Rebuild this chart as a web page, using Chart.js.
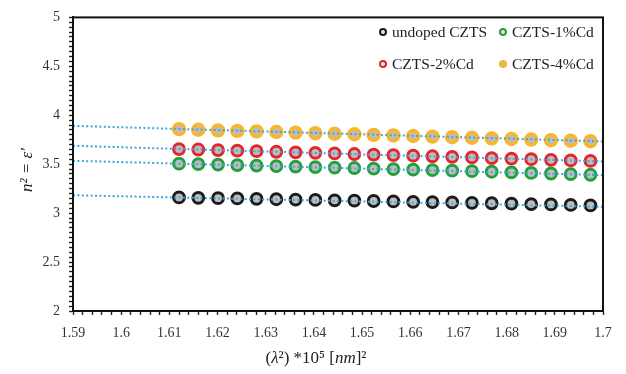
<!DOCTYPE html>
<html>
<head>
<meta charset="utf-8">
<script src="https://cdn.jsdelivr.net/npm/chart.js@4.4.1/dist/chart.umd.min.js"></script>
<style>
  html, body { margin: 0; padding: 0; background: #fff; }
  #wrap { width: 626px; height: 374px; }
</style>
</head>
<body>
<div id="wrap"><canvas id="chart" width="626" height="374"></canvas></div>
<script>
// x = lambda^2 * 1e-5 (lambda 401.5 .. 412 nm, step 0.5)
const xValues = [1.6120, 1.6160, 1.6201, 1.6241, 1.6281, 1.6322, 1.6362, 1.6403, 1.6443, 1.6484, 1.6524,
                 1.6565, 1.6606, 1.6646, 1.6687, 1.6728, 1.6769, 1.6810, 1.6851, 1.6892, 1.6933, 1.6974];

const seriesNames = ['undoped CZTS', 'CZTS-1%Cd', 'CZTS-2%Cd', 'CZTS-4%Cd'];

const undoped = [3.160, 3.156, 3.153, 3.150, 3.146, 3.142, 3.139, 3.135, 3.131, 3.128, 3.124,
                 3.120, 3.116, 3.113, 3.109, 3.105, 3.101, 3.097, 3.093, 3.089, 3.084, 3.079];
const cd1 = [3.505, 3.500, 3.496, 3.491, 3.486, 3.481, 3.476, 3.471, 3.466, 3.461, 3.455,
             3.450, 3.445, 3.440, 3.434, 3.429, 3.423, 3.417, 3.411, 3.405, 3.398, 3.392];
const cd2 = [3.655, 3.650, 3.644, 3.638, 3.633, 3.627, 3.621, 3.616, 3.610, 3.604, 3.598,
             3.593, 3.587, 3.581, 3.575, 3.569, 3.563, 3.557, 3.551, 3.545, 3.539, 3.533];
const cd4 = [3.858, 3.852, 3.846, 3.841, 3.835, 3.829, 3.823, 3.817, 3.811, 3.806, 3.800,
             3.794, 3.788, 3.782, 3.776, 3.770, 3.764, 3.758, 3.752, 3.746, 3.740, 3.735];

// linear fits, evaluated at the x-axis ends
const fitX = [1.59, 1.70];
const fitUndoped = [3.183, 3.065];
const fitCd1 = [3.535, 3.388];
const fitCd2 = [3.688, 3.528];
const fitCd4 = [3.892, 3.733];

const xTickLabels = ['1.59', '1.6', '1.61', '1.62', '1.63', '1.64', '1.65', '1.66', '1.67', '1.68', '1.69', '1.7'];
const yTickLabels = ['2', '2.5', '3', '3.5', '4', '4.5', '5'];

const colors = ['#1b1b1b', '#23a03c', '#e5242b', '#f9b62a'];
const ringWidth = [3, 3, 3, 3.6];
const fillGray = '#bdbdbd';
const fitColor = '#3fa7e0';
const SERIF = '"Liberation Serif", "DejaVu Serif", serif';

const toPts = (xs, ys) => xs.map((x, i) => ({ x: x, y: ys[i] }));

const scatterSets = [undoped, cd1, cd2, cd4].map((ys, i) => ({
  label: seriesNames[i],
  type: 'scatter',
  data: toPts(xValues, ys),
  pointRadius: 5.4,
  pointBorderWidth: ringWidth[i],
  pointBackgroundColor: fillGray,
  pointBorderColor: colors[i],
  order: 2,
}));

const fitSets = [fitUndoped, fitCd1, fitCd2, fitCd4].map((ys) => ({
  label: '',
  type: 'line',
  data: toPts(fitX, ys),
  borderColor: fitColor,
  borderWidth: 2,
  borderDash: [2, 2.4],
  pointRadius: 0,
  fill: false,
  order: 1,
}));

// show a label only where the tick value matches one of the listed labels
function fmt(v, labels) {
  for (const s of labels) {
    if (Math.abs(v - Number(s)) < 1e-6) return s;
  }
  return '';
}

// legend in the top right of the plot, 2 x 2
const innerLegend = {
  id: 'innerLegend',
  afterDraw(chart) {
    const ctx = chart.ctx;
    const pos = [[383, 32], [503, 32], [383, 64], [503, 64]];
    ctx.save();
    ctx.font = '15.5px ' + SERIF;
    ctx.textBaseline = 'middle';
    seriesNames.forEach((name, i) => {
      const [x, y] = pos[i];
      ctx.beginPath();
      ctx.arc(x, y, 3, 0, Math.PI * 2);
      ctx.fillStyle = i === 3 ? colors[3] : '#e6e6e6';
      ctx.fill();
      ctx.lineWidth = 2;
      ctx.strokeStyle = colors[i];
      ctx.stroke();
      if (i === 3) {
        ctx.beginPath();
        ctx.arc(x, y, 1.3, 0, Math.PI * 2);
        ctx.fillStyle = fillGray;
        ctx.fill();
      }
      ctx.fillStyle = '#222';
      ctx.fillText(name, x + 9, y + 1);
    });
    ctx.restore();
  },
};

// box round the plot and the two axis titles
const frameAndTitles = {
  id: 'frameAndTitles',
  afterDraw(chart) {
    const { ctx, chartArea: a } = chart;
    ctx.save();
    ctx.strokeStyle = '#111';
    ctx.lineWidth = 2;
    ctx.strokeRect(a.left, a.top, a.right - a.left, a.bottom - a.top);

    // x title: (λ²) *10⁵ [nm]²
    const parts = [
      ['(', false], ['λ', true], ['²) *10⁵ [', false], ['nm', true], [']²', false],
    ];
    const fontFor = (it) => (it ? 'italic ' : '') + '17px ' + SERIF;
    let total = 0;
    parts.forEach(([t, it]) => { ctx.font = fontFor(it); total += ctx.measureText(t).width; });
    let x = (a.left + a.right) / 2 - 22 - total / 2;
    ctx.fillStyle = '#222';
    ctx.textBaseline = 'middle';
    parts.forEach(([t, it]) => {
      ctx.font = fontFor(it);
      ctx.fillText(t, x, 359);
      x += ctx.measureText(t).width;
    });

    // y title: n² = ε′
    ctx.translate(28, 170);
    ctx.rotate(-Math.PI / 2);
    ctx.font = 'italic 17px ' + SERIF;
    ctx.textAlign = 'center';
    ctx.fillText('n² = ε′', 0, 0);
    ctx.restore();
  },
};

new Chart(document.getElementById('chart').getContext('2d'), {
  data: { datasets: [...fitSets, ...scatterSets] },
  options: {
    responsive: false,
    animation: false,
    layout: { padding: { left: 0, top: 10, right: 23, bottom: 0 } },
    plugins: { legend: { display: false }, tooltip: { enabled: false } },
    scales: {
      x: {
        type: 'linear',
        min: 1.59,
        max: 1.7,
        afterFit: (s) => { s.height = 63; },
        border: { display: true, color: '#111', width: 2 },
        grid: { drawOnChartArea: false, tickLength: 4, tickWidth: 1.4, tickColor: '#222' },
        ticks: {
          stepSize: 0.002,
          autoSkip: false,
          maxRotation: 0,
          padding: 10,
          color: '#333',
          font: { family: SERIF, size: 14 },
          callback: (v) => fmt(v, xTickLabels),
        },
      },
      y: {
        type: 'linear',
        min: 2,
        max: 5,
        afterFit: (s) => { s.width = 73; },
        border: { display: true, color: '#111', width: 2 },
        grid: { drawOnChartArea: false, tickLength: 4, tickWidth: 1.4, tickColor: '#222' },
        ticks: {
          stepSize: 0.05,
          autoSkip: false,
          padding: 9,
          color: '#333',
          font: { family: SERIF, size: 14 },
          callback: (v) => fmt(v, yTickLabels),
        },
      },
    },
  },
  plugins: [innerLegend, frameAndTitles],
});
</script>
</body>
</html>
